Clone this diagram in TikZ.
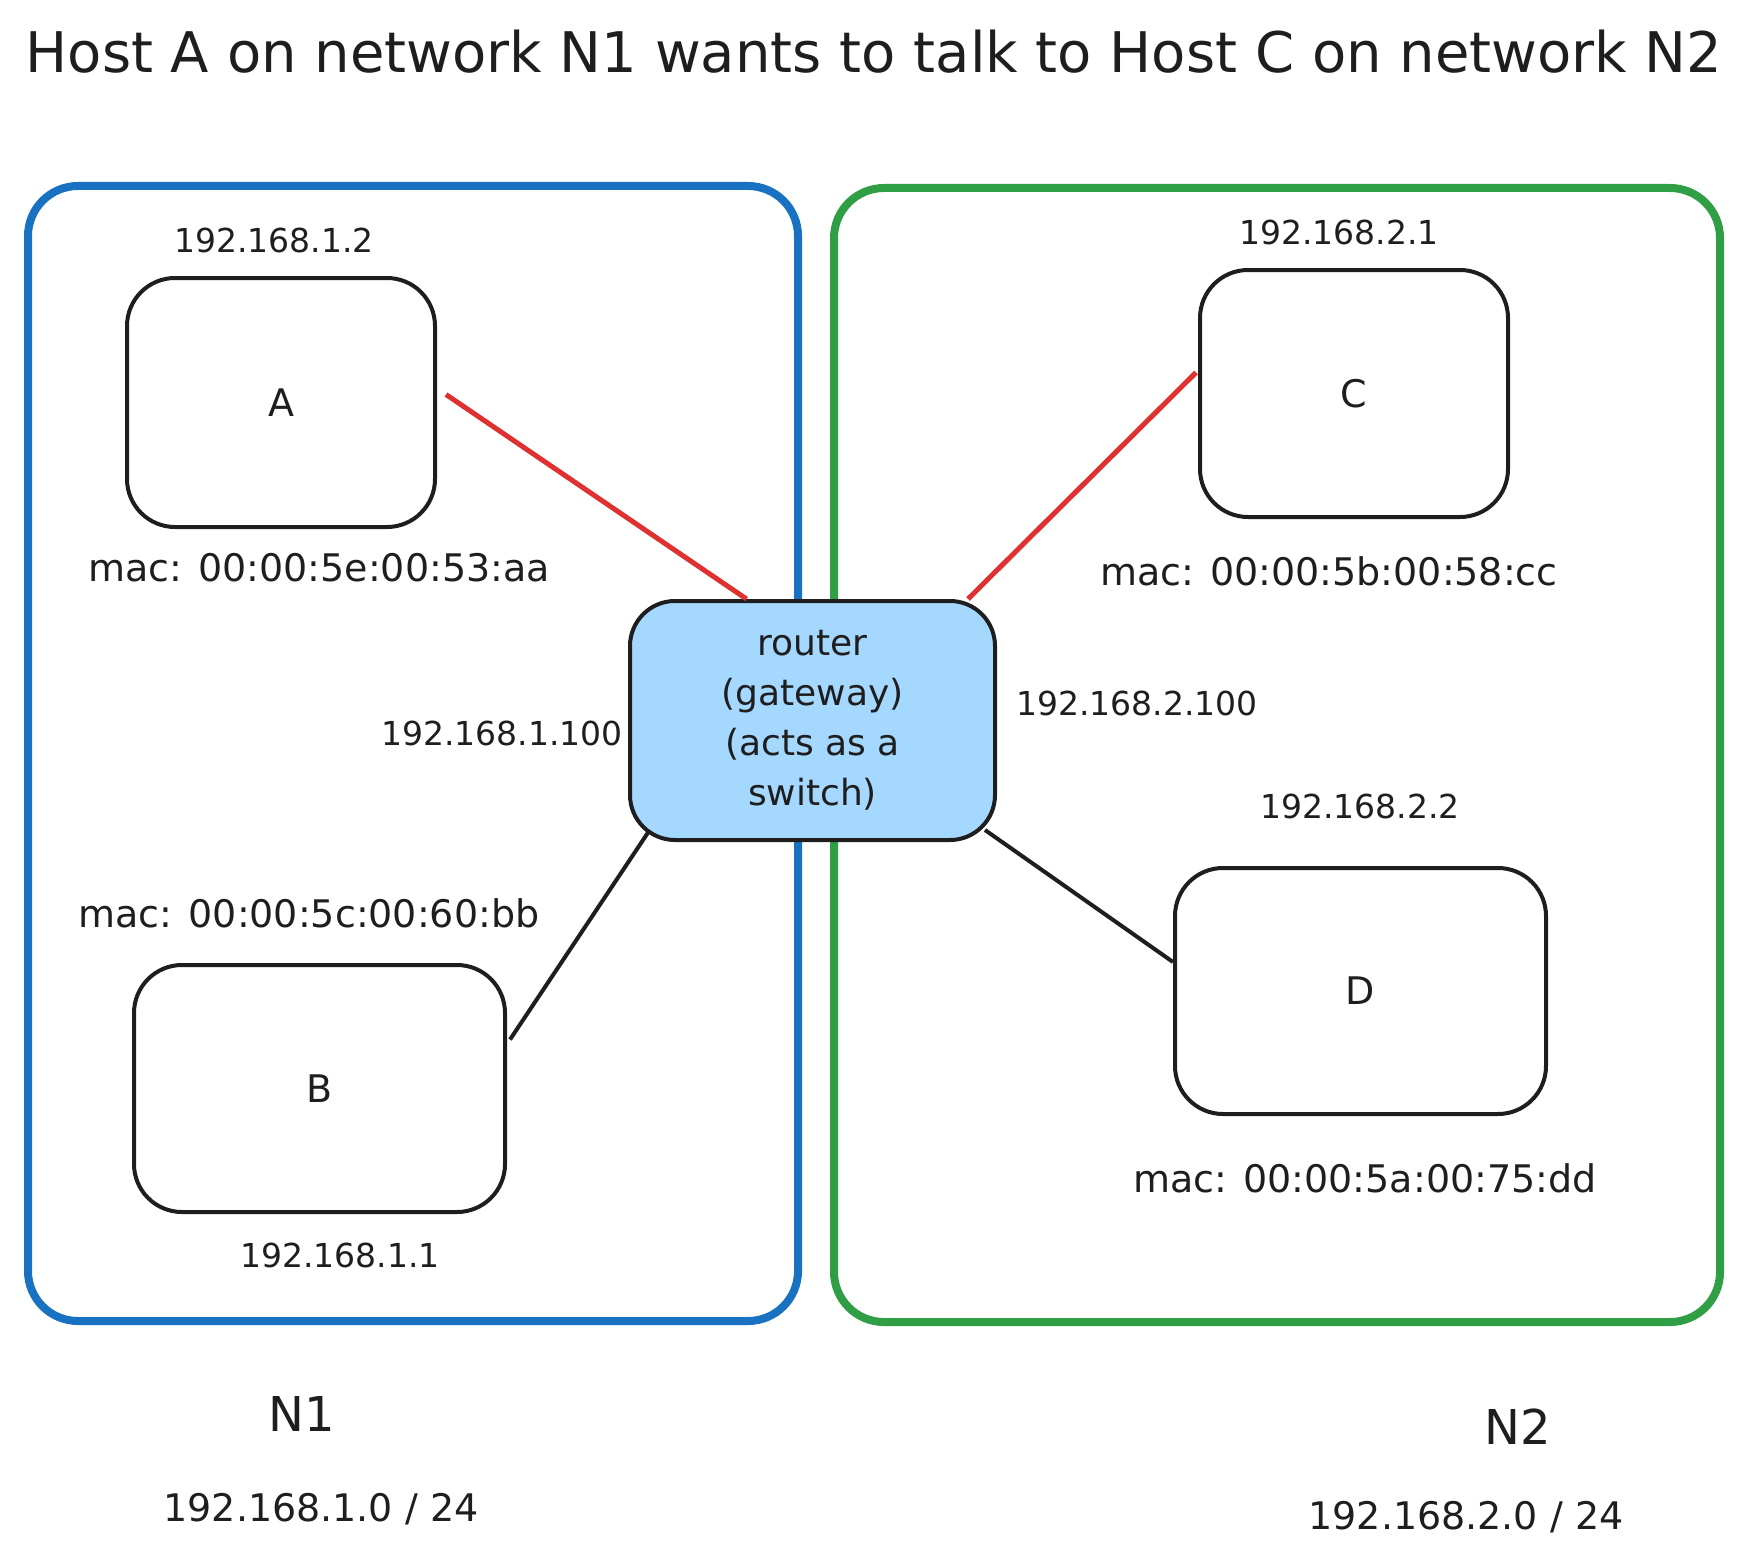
\documentclass[tikz,border=0pt]{standalone}
\usepackage{fontspec}
\setmainfont{DejaVu Sans}
\definecolor{netblue}{HTML}{1971C2}
\definecolor{netgreen}{HTML}{2F9E44}
\definecolor{linkred}{HTML}{E03131}
\definecolor{routerfill}{HTML}{A5D8FF}
\definecolor{ink}{HTML}{1E1E1E}
\begin{document}
\begin{tikzpicture}[x=1pt,y=-1pt,
  netbox/.style={line width=8pt,rounded corners=50pt},
  host/.style={draw=ink,line width=4pt,rounded corners=48pt,
    font=\fontsize{38}{44}\selectfont,text=ink},
  link/.style={line width=4pt,draw=ink},
  redlink/.style={line width=5pt,draw=linkred},
  ip/.style={inner sep=0pt,text=ink,font=\fontsize{33}{38}\selectfont},
  mac/.style={inner sep=0pt,text=ink,font=\fontsize{38}{44}\selectfont}]
\useasboundingbox (0,0) rectangle (1745,1565);
% networks
\draw[netbox,draw=netblue] (28,186) rectangle (798,1321);
\draw[netbox,draw=netgreen] (834,188) rectangle (1720,1322);
% hosts and router
\node[host,minimum width=308pt,minimum height=249pt] (A) at (281,402.5) {A};
\node[host,minimum width=371pt,minimum height=247pt] (B) at (319.5,1088.5) {B};
\node[host,minimum width=308pt,minimum height=247pt] (C) at (1354,393.5) {C};
\node[host,minimum width=371pt,minimum height=246pt] (D) at (1360.5,991) {D};
\node[host,fill=routerfill,minimum width=365pt,minimum height=239pt,
  rounded corners=45pt,align=center,
  font=\fontsize{36}{50}\selectfont] (router) at (812.5,720.5)
  {router\\(gateway)\\(acts as a\\switch)};
% links
\draw[redlink] ([xshift=9pt,yshift=8pt]A.east) -- ([xshift=-66pt]router.north);
\draw[redlink] ([xshift=-2pt,yshift=21pt]C.west) -- ([xshift=-29pt]router.north east);
\draw[link] ([xshift=3pt,yshift=49pt]B.east) -- ([xshift=21pt,yshift=11pt]router.south west);
\draw[link] ([yshift=29pt]D.west) -- ([xshift=-12pt,yshift=12pt]router.south east);
% labels
\node[inner sep=0pt,text=ink,font=\fontsize{56}{62}\selectfont] (title) at (874,52)
  {Host A on network N1 wants to talk to Host C on network N2};
\node[ip] (ipA) at (274,240) {192.168.1.2};
\node[mac] (macA) at (319,568) {mac: 00:00:5e:00:53:aa};
\node[mac] (macB) at (309,913) {mac: 00:00:5c:00:60:bb};
\node[ip] (ipB) at (340,1255) {192.168.1.1};
\node[ip] (ipC) at (1339,232) {192.168.2.1};
\node[mac] (macC) at (1329,571) {mac: 00:00:5b:00:58:cc};
\node[ip] (ipD) at (1360,806) {192.168.2.2};
\node[mac] (macD) at (1365,1178) {mac: 00:00:5a:00:75:dd};
\node[ip] (gw1) at (502,733) {192.168.1.100};
\node[ip] (gw2) at (1137,703) {192.168.2.100};
\node[inner sep=0pt,text=ink,font=\fontsize{48}{52}\selectfont] (n1) at (302,1414) {N1};
\node[mac] (net1) at (321,1509) {192.168.1.0 / 24};
\node[inner sep=0pt,text=ink,font=\fontsize{48}{52}\selectfont] (n2) at (1518,1427) {N2};
\node[mac] (net2) at (1466,1517) {192.168.2.0 / 24};
\end{tikzpicture}
\end{document}
